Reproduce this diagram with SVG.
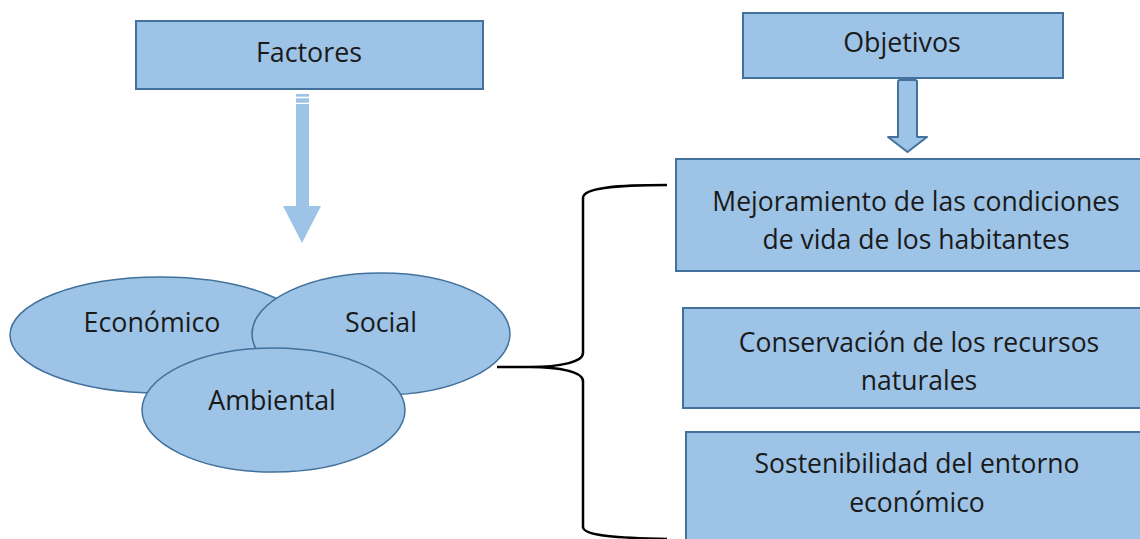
<svg xmlns="http://www.w3.org/2000/svg" width="1140" height="539" viewBox="0 0 1140 539">
<style>
.box{fill:#9DC3E6;stroke:#41719C;stroke-width:2}
.ell{fill:#9DC3E6;stroke:#41719C;stroke-width:1.5}
.t{font-family:"Open Sans","Liberation Sans",sans-serif;font-size:26.5px;fill:#1a1a1a;text-anchor:middle}
.te{font-family:"Open Sans","Liberation Sans",sans-serif;font-size:26.8px;fill:#1a1a1a;text-anchor:middle}
.brace{fill:none;stroke:#000;stroke-width:2.5}
</style>
<rect width="1140" height="539" fill="#fff"/>
<g id="factores">
<rect class="box" x="136" y="21" width="347" height="68"/>
<text class="te" x="309" y="62">Factores</text>
</g>
<g id="objetivos">
<rect class="box" x="743" y="13" width="320" height="65"/>
<text class="te" x="902" y="52">Objetivos</text>
</g>
<g id="economico">
<ellipse class="ell" cx="160" cy="335" rx="150" ry="58"/>
<text class="te" x="152" y="332">Económico</text>
</g>
<g id="social">
<ellipse class="ell" cx="381" cy="334" rx="129" ry="61"/>
<text class="te" x="381" y="332">Social</text>
</g>
<g id="ambiental">
<ellipse class="ell" cx="273.5" cy="410" rx="131.5" ry="62"/>
<text class="te" x="272" y="410">Ambiental</text>
</g>
<g id="obj1">
<rect class="box" x="676" y="159" width="480" height="112"/>
<text class="t" x="916" y="211">Mejoramiento de las condiciones</text>
<text class="t" x="916" y="249">de vida de los habitantes</text>
</g>
<g id="obj2">
<rect class="box" x="683" y="308" width="470" height="100"/>
<text class="t" x="919" y="352">Conservación de los recursos</text>
<text class="t" x="919" y="390">naturales</text>
</g>
<g id="obj3">
<rect class="box" x="686" y="432" width="470" height="120"/>
<text class="t" x="917" y="473">Sostenibilidad del entorno</text>
<text class="t" x="917" y="512">económico</text>
</g>
<g id="connectors">
<g fill="#9DC3E6">
<rect x="296" y="94" width="13" height="2.7"/>
<rect x="296" y="98.3" width="13" height="4.4"/>
<path d="M296,104 H309 V206 H321 L302,243 L283,206 H296 Z"/>
</g>
<path d="M898,82 Q898,80 900,80 H915 Q917,80 917,82 V137 H927 L907.5,152 L888,137 H898 Z" fill="#9DC3E6" stroke="#41719C" stroke-width="2" stroke-linejoin="round"/>
<path class="brace" d="M667,185 C620,185 583,187 583,198 V353 C583,362 560,367 530,367 H497 M530,367 C560,367 583,372 583,381 V527 C583,536 620,538 667,539"/>
</g>
</svg>
